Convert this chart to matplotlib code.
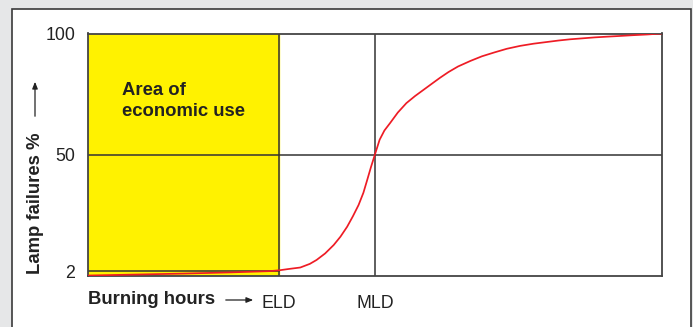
import matplotlib.pyplot as plt
from matplotlib.patches import Rectangle, FancyArrowPatch

plt.rcParams["font.family"] = ["Liberation Sans", "DejaVu Sans"]

# Failure curve of a lamp batch: burning hours (arbitrary units) vs failures in %
hours = [0.0, 0.5, 1.0, 1.5, 1.9, 2.01, 2.1, 2.22, 2.32, 2.39, 2.48, 2.57, 2.64,
         2.71, 2.77, 2.83, 2.88, 2.92, 2.96, 3.00, 3.05, 3.10, 3.16, 3.24, 3.33,
         3.42, 3.51, 3.60, 3.68, 3.77, 3.87, 4.00, 4.12, 4.25, 4.38, 4.52, 4.66,
         4.80, 4.92, 5.04, 5.17, 5.30, 5.43, 5.57, 5.70, 5.85, 6.00]
failures = [0.2, 0.6, 1.0, 1.5, 2.0, 2.4, 2.9, 3.5, 5.0, 6.6, 9.3, 12.8, 16.2,
            20.3, 24.6, 29.3, 34.3, 39.6, 45.0, 50.0, 56.2, 60.0, 63.1, 67.4, 71.3,
            74.2, 76.8, 79.4, 81.7, 84.1, 86.4, 88.7, 90.6, 92.2, 93.7, 94.9, 95.8,
            96.5, 97.1, 97.6, 98.0, 98.4, 98.7, 99.0, 99.3, 99.6, 100.0]

eld = 2.0   # economic lifetime
mld = 3.0   # mean lifetime
x_max = 6.0
y_ticks = [2, 50, 100]
x_marks = [eld, mld]
x_mark_labels = ["ELD", "MLD"]

W, H = 693, 327
fig = plt.figure(figsize=(W / 100, H / 100), dpi=100)
fig.patch.set_facecolor("#e6e7e8")

# white panel with dark frame, kept behind the axes
fig.patches.append(Rectangle((12 / W, -0.1), (691 - 12) / W, 1.1 - 9.5 / H,
                             transform=fig.transFigure, facecolor="white",
                             edgecolor="#3a3a3a", linewidth=1.2, zorder=-10))

left, right, top, bottom = 88, 661.7, 33.5, 276
ax = fig.add_axes([left / W, (H - bottom) / H, (right - left) / W, (bottom - top) / H])
ax.set_xlim(0, x_max)
ax.set_ylim(0, 100)
ax.patch.set_alpha(0)

grid = "#333333"
ax.axvspan(0, eld, color="#fff200", zorder=0)
ax.axhline(50, color=grid, lw=1.1, zorder=1)
ax.plot([0, eld], [2, 2], color=grid, lw=1.1, zorder=1)
for xm in x_marks:
    ax.axvline(xm, color=grid, lw=1.1, zorder=1)
ax.plot(hours, failures, color="#ee1c25", lw=1.25, zorder=3,
        solid_joinstyle="round")

for s in ax.spines.values():
    s.set_color("#444444")
    s.set_linewidth(1.3)

ax.set_yticks(y_ticks)
ax.set_yticklabels([str(v) for v in y_ticks], fontsize=12.8, color="#222222")
ax.tick_params(axis="y", length=0, pad=9)
ax.set_xticks(x_marks)
ax.set_xticklabels(x_mark_labels, fontsize=12.8, color="#222222")
ax.tick_params(axis="x", length=0, pad=14)

ax.text(0.36, 72, "Area of\neconomic use", fontsize=13.3, fontweight="bold",
        color="#222222", va="center", ha="left", linespacing=1.3)

# axis titles with arrows
fig.text(35 / W, 1 - 203 / H, "Lamp failures %", rotation=90, fontsize=13.3,
         fontweight="bold", color="#222222", ha="center", va="center")
fig.add_artist(FancyArrowPatch(
    (35 / W, 1 - 119 / H), (35 / W, 1 - 79 / H), transform=fig.transFigure,
    arrowstyle="-|>,head_length=4,head_width=1.6", color="#222222", lw=0.9,
    mutation_scale=1))
fig.text(88 / W, 1 - 300 / H, "Burning hours", fontsize=13.3, fontweight="bold",
         color="#222222", ha="left", va="center")
fig.add_artist(FancyArrowPatch(
    (223 / W, 1 - 300 / H), (256 / W, 1 - 300 / H), transform=fig.transFigure,
    arrowstyle="-|>,head_length=4,head_width=1.6", color="#222222", lw=0.9,
    mutation_scale=1))

fig.savefig("out.png", dpi=100)
